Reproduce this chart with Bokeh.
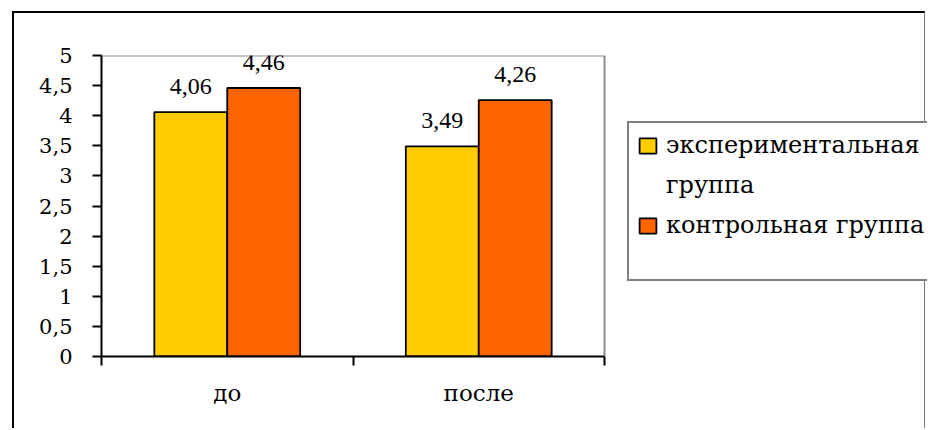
from bokeh.plotting import figure
from bokeh.models import Range1d, FixedTicker, Legend, LegendItem, ColumnDataSource, LabelSet
from bokeh.embed import file_html
from bokeh.resources import INLINE

categories = ["до", "после"]
legend_lines = ["экспериментальная", "группа", "контрольная группа"]
experimental = [4.06, 3.49]
control = [4.46, 4.26]
y_ticks = [0, 0.5, 1, 1.5, 2, 2.5, 3, 3.5, 4, 4.5, 5]
y_tick_labels = ["0", "0,5", "1", "1,5", "2", "2,5", "3", "3,5", "4", "4,5", "5"]
colors = ["#FFCC00", "#FF6600"]

FONT = "DejaVu Serif"

n = len(categories)
ymax = y_ticks[-1]
centers = [i + 0.5 for i in range(n)]
bw = 0.29

# canvas starts at page (14, 13) after the css border
W, H = 913, 417
left_b, top_b, bottom_b = 87, 42, 74
plot_px = 503                    # width of the categorical plot area
frame_px = W - left_b            # frame runs to the right edge (legend lives in it)
x_end = n * frame_px / plot_px

p = figure(width=W, height=H, output_backend="svg", toolbar_location=None,
           x_range=Range1d(0, x_end), y_range=Range1d(0, ymax))
p.styles = {"margin-left": "12px", "margin-top": "11px",
            "border-left": "2px solid black", "border-top": "2px solid black",
            "border-right": "1px solid #777777"}
p.min_border_left = left_b
p.min_border_right = 0
p.min_border_top = top_b
p.min_border_bottom = bottom_b
p.background_fill_color = "white"
p.border_fill_color = "white"
p.outline_line_color = None
p.xgrid.visible = False
p.ygrid.visible = False

# gray plot-area border (top and right)
p.line(x=[0, n, n], y=[ymax, ymax, 0], line_color="#8c8c8c", line_width=2)

series = [experimental, control]
offsets = [-bw / 2, bw / 2]
renderers = []
for vals, off, col in zip(series, offsets, colors):
    src = ColumnDataSource(dict(x=[c + off for c in centers], top=vals,
                                txt=[f"{v:.2f}".replace(".", ",") for v in vals]))
    r = p.vbar(x="x", top="top", width=bw, bottom=0, source=src, fill_color=col,
               line_color="black", line_width=1.8)
    renderers.append(r)
    p.add_layout(LabelSet(x="x", y="top", text="txt", source=src, text_align="center",
                          text_baseline="alphabetic", y_offset=18, text_font=FONT,
                          text_font_size="24px", text_color="black"))

# invisible renderer for legend continuation lines
blank = p.vbar(x=[], top=[], width=bw, fill_alpha=0, line_alpha=0)

# y axis
ya = p.yaxis[0]
ya.ticker = FixedTicker(ticks=y_ticks, minor_ticks=[])
ya.major_label_overrides = {(int(t) if float(t).is_integer() else t): l for t, l in zip(y_ticks, y_tick_labels)}
ya.axis_line_color = "black"
ya.axis_line_width = 2
ya.major_tick_line_color = "black"
ya.major_tick_line_width = 2
ya.major_tick_in = 0
ya.major_tick_out = 9
ya.minor_tick_line_color = None
ya.major_label_standoff = 20
ya.major_label_text_font = FONT
ya.major_label_text_font_size = "21px"
ya.major_label_text_color = "black"

# x axis
xa = p.xaxis[0]
xa.bounds = (0, n)
xa.ticker = FixedTicker(ticks=centers, minor_ticks=list(range(n + 1)))
xa.major_label_overrides = {c: name for c, name in zip(centers, categories)}
xa.axis_line_color = "black"
xa.axis_line_width = 2
xa.major_tick_line_color = None
xa.major_tick_in = 0
xa.major_tick_out = 0
xa.minor_tick_line_color = "black"
xa.minor_tick_line_width = 2
xa.minor_tick_in = 0
xa.minor_tick_out = 9
xa.major_label_standoff = 14
xa.major_label_text_font = FONT
xa.major_label_text_font_size = "23px"
xa.major_label_text_color = "black"

items = [LegendItem(label=legend_lines[0], renderers=[renderers[0]]),
         LegendItem(label=legend_lines[1], renderers=[blank]),
         LegendItem(label=legend_lines[2], renderers=[renderers[1]]),
         LegendItem(label=" ", renderers=[blank])]
legend = Legend(items=items, location=(627 - 101, 356 - 281))
legend.border_line_color = "black"
legend.border_line_width = 2
legend.background_fill_color = "white"
legend.background_fill_alpha = 1
legend.padding = 8
legend.spacing = 12
legend.label_height = 20
legend.glyph_width = 21
legend.glyph_height = 19
legend.label_standoff = 8
legend.label_width = 320
legend.label_text_font = FONT
legend.label_text_font_size = "24px"
legend.label_text_color = "black"
p.add_layout(legend)

open("out.html", "w").write(file_html(p, INLINE))
